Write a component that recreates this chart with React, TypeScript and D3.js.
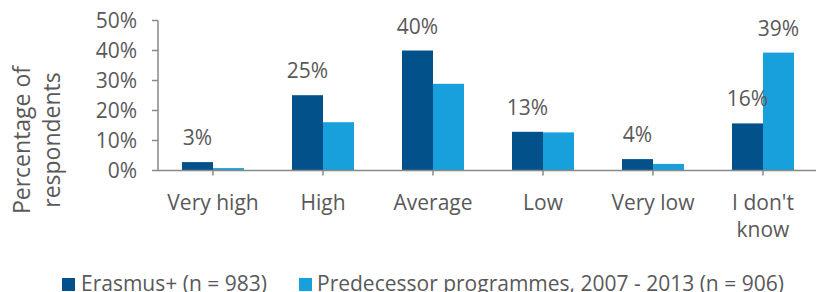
import React from 'react';
import * as d3 from 'd3';

const categories = ['Very high', 'High', 'Average', 'Low', 'Very low', "I don't know"];
const seriesNames = ['Erasmus+ (n = 983)', 'Predecessor programmes, 2007 - 2013 (n = 906)'];
const erasmusValues = [0.028, 0.251, 0.400, 0.129, 0.038, 0.157];
const predecessorValues = [0.008, 0.161, 0.289, 0.127, 0.022, 0.393];
const erasmusLabels = ['3%', '25%', '40%', '13%', '4%', '16%'];
const predecessorLabels = ['', '', '', '', '', '39%'];
const yTicks = [0, 0.1, 0.2, 0.3, 0.4, 0.5];
const colors = ['#02518A', '#17A0DB'];

const W = 816, H = 292;
const FONT = '"Open Sans", sans-serif';
const TEXT = '#595959';
const AXIS = '#898989';
const FS = 21;

const App = () => {
  const x = d3.scaleBand<string>()
    .domain(categories)
    .range([158, 818])
    .paddingInner(48 / 110)
    .paddingOuter(24 / 110);
  const xSub = d3.scaleBand<number>().domain([0, 1]).range([0, x.bandwidth()]);
  const y = d3.scaleLinear().domain([0, 0.5]).range([170.5, 20.5]);
  const fmt = d3.format('.0%');

  const series = [
    { values: erasmusValues, labels: erasmusLabels },
    { values: predecessorValues, labels: predecessorLabels },
  ];
  const center = (c: string) => (x(c) as number) + x.bandwidth() / 2;

  return (
    <svg width={W} height={H} style={{ position: 'absolute', left: 0, top: 0 }}
      fontFamily={FONT}>
      <rect width={W} height={H} fill="#fff" />

      {/* y title */}
      <g transform="translate(30,140) rotate(-90)" fill={TEXT} fontSize={23} textAnchor="middle">
        <text x={0} y={0}>Percentage of</text>
        <text x={0} y={30}>respondents</text>
      </g>

      {/* y axis */}
      <line x1={158} x2={158} y1={y(0.5)} y2={y(0)} stroke={AXIS} strokeWidth={1.5} />
      {yTicks.map(t => (
        <g key={t}>
          <line x1={152} x2={158} y1={y(t)} y2={y(t)} stroke={AXIS} strokeWidth={1.5} />
          <text x={137} y={y(t)} dy="0.36em" textAnchor="end" fontSize={FS} fill={TEXT}>{fmt(t)}</text>
        </g>
      ))}

      {/* bars */}
      {series.map((s, si) => categories.map((c, i) => (
        <rect key={si + c}
          x={(x(c) as number) + (xSub(si) as number)}
          y={y(s.values[i])}
          width={xSub.bandwidth()}
          height={y(0) - y(s.values[i])}
          fill={colors[si]} />
      )))}

      {/* data labels */}
      {series.map((s, si) => categories.map((c, i) => s.labels[i] ? (
        <text key={'l' + si + c}
          x={(x(c) as number) + (xSub(si) as number) + xSub.bandwidth() / 2}
          y={y(s.values[i]) - 17}
          textAnchor="middle" fontSize={FS} fill={TEXT}>{s.labels[i]}</text>
      ) : null))}

      {/* x axis */}
      <line x1={158} x2={818} y1={y(0)} y2={y(0)} stroke={AXIS} strokeWidth={1.5} />
      {categories.map(c => (
        <g key={'t' + c}>
          <line x1={center(c)} x2={center(c)} y1={y(0)} y2={y(0) + 5} stroke={AXIS} strokeWidth={1.5} />
          {c === "I don't know" ? (
            <text x={center(c)} y={210} textAnchor="middle" fontSize={FS} fill={TEXT}>
              <tspan x={center(c)}>I don't</tspan>
              <tspan x={center(c)} dy={27}>know</tspan>
            </text>
          ) : (
            <text x={center(c)} y={210} textAnchor="middle" fontSize={FS} fill={TEXT}>{c}</text>
          )}
        </g>
      ))}

      {/* legend */}
      <rect x={62} y={278} width={13} height={13} fill={colors[0]} />
      <text x={81} y={291} fontSize={FS} fill={TEXT}>{seriesNames[0]}</text>
      <rect x={299} y={278} width={13} height={13} fill={colors[1]} />
      <text x={317} y={291} fontSize={FS} fill={TEXT}>{seriesNames[1]}</text>
    </svg>
  );
};

export default App;
